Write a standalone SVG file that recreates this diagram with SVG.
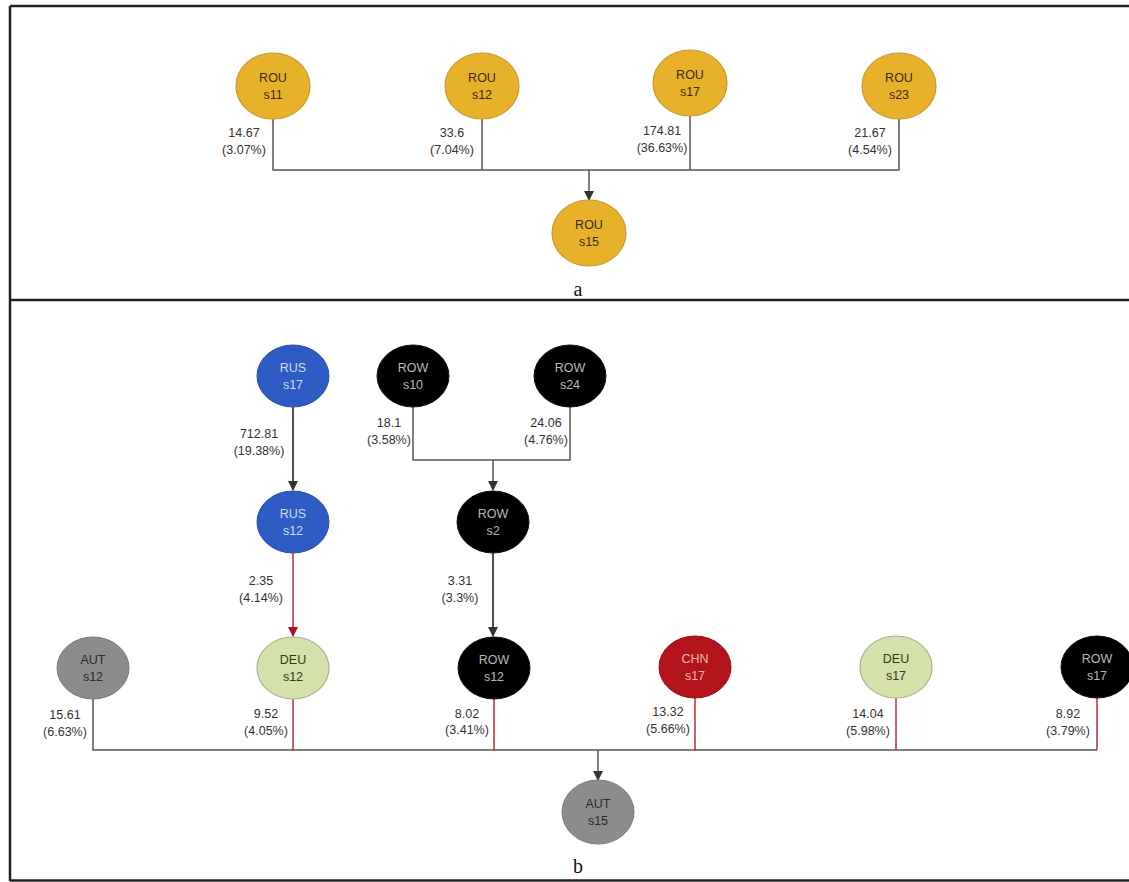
<svg xmlns="http://www.w3.org/2000/svg" width="1129" height="882" viewBox="0 0 1129 882">
<defs>
<style>
.frame{stroke:#222;stroke-width:2.5;fill:none}
.lbl{font-family:"Liberation Sans",Arial,sans-serif;font-size:12.5px;fill:#333;text-anchor:middle}
.nt{font-family:"Liberation Sans",Arial,sans-serif;font-size:12.5px;text-anchor:middle}
.cap{font-family:"Liberation Serif","Times New Roman",serif;font-size:20px;fill:#111;text-anchor:middle}
.gold ellipse{fill:#e8b12a;stroke:#c79a35;stroke-width:1.2}
.gold text{fill:#3a2a0c}
.blue ellipse{fill:#2f5cc4;stroke:#2a4fa6;stroke-width:1}
.blue text{fill:#cfdcf5}
.blk ellipse{fill:#000;stroke:#111;stroke-width:1}
.blk text{fill:#b8b8b8}
.grey ellipse{fill:#8c8c8c;stroke:#7a7a7a;stroke-width:1}
.grey text{fill:#2a2a2a}
.grn ellipse{fill:#d4e1aa;stroke:#a6b48a;stroke-width:1.2}
.grn text{fill:#2f3a20}
.red ellipse{fill:#b3141c;stroke:#9a1218;stroke-width:1}
.red text{fill:#f0b4b4}
.ln{fill:none;stroke:#555;stroke-width:1.5}
.lnk{fill:none;stroke:#222;stroke-width:1.6}
.lnr{fill:none;stroke:#c0283c;stroke-width:1.5}
</style>
<marker id="ak" markerWidth="10" markerHeight="10" refX="9" refY="5" orient="auto" markerUnits="userSpaceOnUse">
<path d="M0,0 L10,5 L0,10 z" fill="#333"/>
</marker>
<marker id="ar" markerWidth="10" markerHeight="10" refX="9" refY="5" orient="auto" markerUnits="userSpaceOnUse">
<path d="M0,0 L10,5 L0,10 z" fill="#b01020"/>
</marker>
</defs>
<rect width="1129" height="882" fill="#fff"/>
<g id="frame">
<line class="frame" x1="10" y1="6" x2="1129" y2="6"/>
<line class="frame" x1="10" y1="6" x2="10" y2="881"/>
<line class="frame" x1="10" y1="300" x2="1129" y2="300"/>
<line class="frame" x1="10" y1="880.5" x2="1129" y2="880.5"/>
</g>
<g id="connectors">
<!-- panel a -->
<polyline class="ln" points="273,119 273,170 899,170 899,119"/>
<line class="ln" x1="482" y1="119" x2="482" y2="170"/>
<line class="ln" x1="690" y1="116" x2="690" y2="170"/>
<line class="ln" x1="589" y1="170" x2="589" y2="200" marker-end="url(#ak)"/>
<!-- panel b -->
<line class="lnk" x1="293" y1="407" x2="293" y2="490" marker-end="url(#ak)"/>
<polyline class="ln" points="413,407 413,460 570,460 570,407"/>
<line class="ln" x1="493" y1="460" x2="493" y2="490" marker-end="url(#ak)"/>
<line class="lnr" x1="293" y1="553" x2="293" y2="636" marker-end="url(#ar)"/>
<line class="lnk" x1="493" y1="553" x2="493" y2="636" marker-end="url(#ak)"/>
<polyline class="ln" points="93,699 93,750 1097,750"/>
<line class="lnr" x1="293" y1="699" x2="293" y2="750"/>
<line class="lnr" x1="494" y1="699" x2="494" y2="750"/>
<line class="lnr" x1="695" y1="698" x2="695" y2="750"/>
<line class="lnr" x1="896" y1="698" x2="896" y2="750"/>
<line class="lnr" x1="1097" y1="698" x2="1097" y2="750"/>
<line class="ln" x1="598" y1="750" x2="598" y2="780" marker-end="url(#ak)"/>
</g>
<g id="edge-labels">
<text class="lbl" x="244" y="137">14.67</text><text class="lbl" x="244" y="154">(3.07%)</text>
<text class="lbl" x="452" y="137">33.6</text><text class="lbl" x="452" y="154">(7.04%)</text>
<text class="lbl" x="662" y="135">174.81</text><text class="lbl" x="662" y="152">(36.63%)</text>
<text class="lbl" x="870" y="137">21.67</text><text class="lbl" x="870" y="154">(4.54%)</text>
<text class="lbl" x="259" y="438">712.81</text><text class="lbl" x="259" y="455">(19.38%)</text>
<text class="lbl" x="389" y="427">18.1</text><text class="lbl" x="389" y="444">(3.58%)</text>
<text class="lbl" x="546" y="427">24.06</text><text class="lbl" x="546" y="444">(4.76%)</text>
<text class="lbl" x="261" y="585">2.35</text><text class="lbl" x="261" y="602">(4.14%)</text>
<text class="lbl" x="460" y="585">3.31</text><text class="lbl" x="460" y="602">(3.3%)</text>
<text class="lbl" x="65" y="719">15.61</text><text class="lbl" x="65" y="736">(6.63%)</text>
<text class="lbl" x="266" y="718">9.52</text><text class="lbl" x="266" y="735">(4.05%)</text>
<text class="lbl" x="467" y="718">8.02</text><text class="lbl" x="467" y="734">(3.41%)</text>
<text class="lbl" x="668" y="716">13.32</text><text class="lbl" x="668" y="733">(5.66%)</text>
<text class="lbl" x="868" y="718">14.04</text><text class="lbl" x="868" y="735">(5.98%)</text>
<text class="lbl" x="1068" y="718">8.92</text><text class="lbl" x="1068" y="735">(3.79%)</text>
</g>
<g id="n-rou-s11" class="gold"><ellipse cx="273" cy="86" rx="37" ry="33"/><text class="nt" x="273" y="82">ROU</text><text class="nt" x="273" y="99">s11</text></g>
<g id="n-rou-s12" class="gold"><ellipse cx="482" cy="86" rx="37" ry="33"/><text class="nt" x="482" y="82">ROU</text><text class="nt" x="482" y="99">s12</text></g>
<g id="n-rou-s17" class="gold"><ellipse cx="690" cy="83" rx="37" ry="33"/><text class="nt" x="690" y="79">ROU</text><text class="nt" x="690" y="96">s17</text></g>
<g id="n-rou-s23" class="gold"><ellipse cx="899" cy="86" rx="37" ry="33"/><text class="nt" x="899" y="82">ROU</text><text class="nt" x="899" y="99">s23</text></g>
<g id="n-rou-s15" class="gold"><ellipse cx="589" cy="233" rx="37" ry="33"/><text class="nt" x="589" y="229">ROU</text><text class="nt" x="589" y="246">s15</text></g>
<text class="cap" x="578" y="296">a</text>
<g id="n-rus-s17" class="blue"><ellipse cx="293" cy="376" rx="36" ry="31"/><text class="nt" x="293" y="372">RUS</text><text class="nt" x="293" y="389">s17</text></g>
<g id="n-row-s10" class="blk"><ellipse cx="413" cy="376" rx="36" ry="31"/><text class="nt" x="413" y="372">ROW</text><text class="nt" x="413" y="389">s10</text></g>
<g id="n-row-s24" class="blk"><ellipse cx="570" cy="376" rx="36" ry="31"/><text class="nt" x="570" y="372">ROW</text><text class="nt" x="570" y="389">s24</text></g>
<g id="n-rus-s12" class="blue"><ellipse cx="293" cy="522" rx="36" ry="31"/><text class="nt" x="293" y="518">RUS</text><text class="nt" x="293" y="535">s12</text></g>
<g id="n-row-s2" class="blk"><ellipse cx="493" cy="522" rx="36" ry="31"/><text class="nt" x="493" y="518">ROW</text><text class="nt" x="493" y="535">s2</text></g>
<g id="n-aut-s12" class="grey"><ellipse cx="93" cy="668" rx="36" ry="31"/><text class="nt" x="93" y="664">AUT</text><text class="nt" x="93" y="681">s12</text></g>
<g id="n-deu-s12" class="grn"><ellipse cx="293" cy="668" rx="36" ry="31"/><text class="nt" x="293" y="664">DEU</text><text class="nt" x="293" y="681">s12</text></g>
<g id="n-row-s12" class="blk"><ellipse cx="494" cy="668" rx="36" ry="31"/><text class="nt" x="494" y="664">ROW</text><text class="nt" x="494" y="681">s12</text></g>
<g id="n-chn-s17" class="red"><ellipse cx="695" cy="667" rx="36" ry="31"/><text class="nt" x="695" y="663">CHN</text><text class="nt" x="695" y="680">s17</text></g>
<g id="n-deu-s17" class="grn"><ellipse cx="896" cy="667" rx="36" ry="31"/><text class="nt" x="896" y="663">DEU</text><text class="nt" x="896" y="680">s17</text></g>
<g id="n-row-s17" class="blk"><ellipse cx="1097" cy="667" rx="36" ry="31"/><text class="nt" x="1097" y="663">ROW</text><text class="nt" x="1097" y="680">s17</text></g>
<g id="n-aut-s15" class="grey"><ellipse cx="598" cy="812" rx="36" ry="32"/><text class="nt" x="598" y="808">AUT</text><text class="nt" x="598" y="825">s15</text></g>
<text class="cap" x="578" y="873">b</text>
</svg>
